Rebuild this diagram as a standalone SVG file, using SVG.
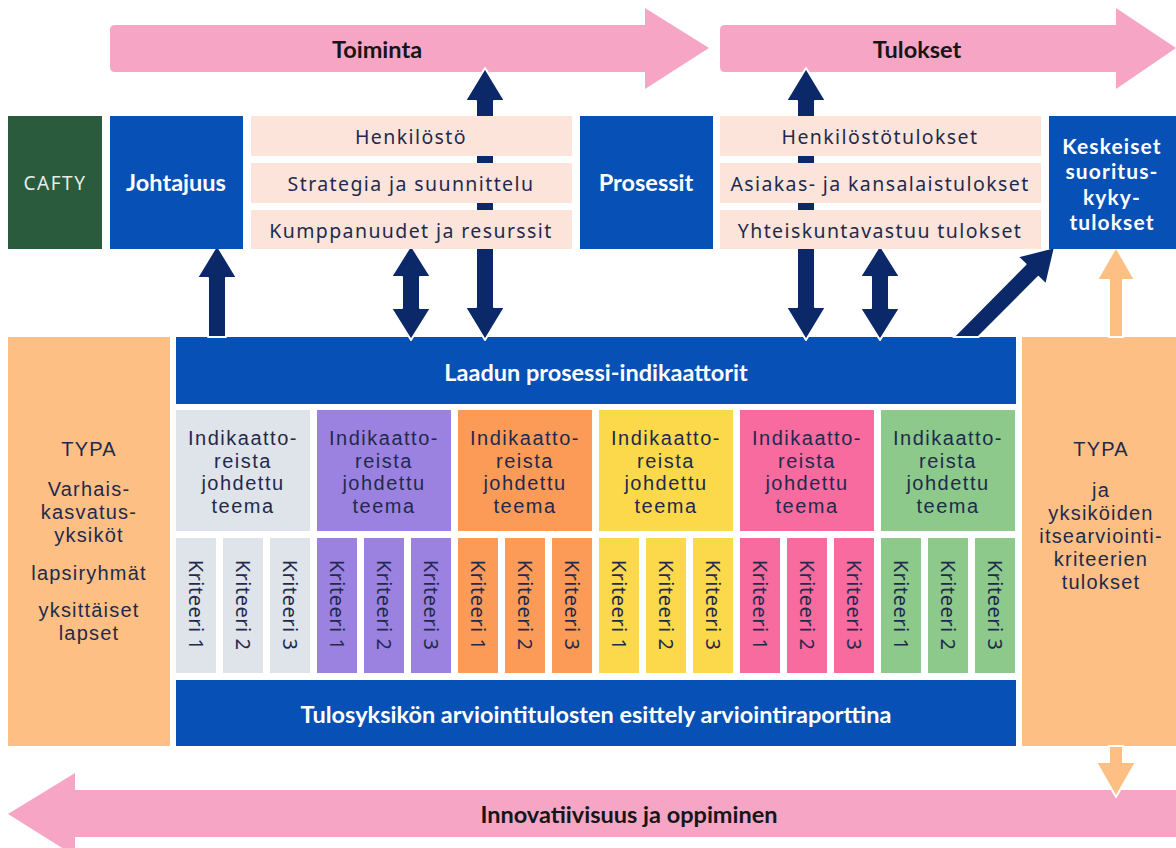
<svg xmlns="http://www.w3.org/2000/svg" width="1176" height="848" viewBox="0 0 1176 848">
<style>
.pink{fill:#f7a5c5}
.blue{fill:#0750b5}
.peach{fill:#fce4da}
.side{fill:#fdbf83}
.navy{fill:#0b2868;stroke:#ffffff;stroke-width:2;stroke-linejoin:round}
.oarr{fill:#fdbf83;stroke:#ffffff;stroke-width:2;stroke-linejoin:round}
.bold{font-family:Lato,"Liberation Sans",sans-serif;font-weight:700;font-size:23.5px;text-anchor:middle;dominant-baseline:central}
.kesk{font-family:Lato,"Liberation Sans",sans-serif;font-weight:700;font-size:21px;letter-spacing:1.1px;text-anchor:middle;dominant-baseline:central;fill:#ffffff}
.bw{fill:#ffffff}
.bk{fill:#161616}
.reg{font-family:"Noto Sans","Liberation Sans",sans-serif;font-size:19.5px;text-anchor:middle;dominant-baseline:central;fill:#1f2a4d;letter-spacing:1.4px}
.cafty{font-family:"Noto Sans","Liberation Sans",sans-serif;font-size:19px;text-anchor:middle;dominant-baseline:central;fill:#e6ece6;letter-spacing:1.5px}
.ind{font-family:"Liberation Sans",Arial,sans-serif;font-size:20px;text-anchor:middle;dominant-baseline:central;fill:#1f2a4d;letter-spacing:1.5px}
.sd{font-family:"Liberation Sans",Arial,sans-serif;font-size:20px;text-anchor:middle;dominant-baseline:central;fill:#1f2a4d;letter-spacing:1.2px}
.crit{font-family:"Noto Sans","Liberation Sans",sans-serif;font-size:20px;text-anchor:middle;dominant-baseline:central;fill:#1f2a4d;letter-spacing:0.5px}
.g0{fill:#dfe3ea}.g1{fill:#9b82e0}.g2{fill:#fb9b57}.g3{fill:#fcd94b}.g4{fill:#f76b9e}.g5{fill:#8cc98b}
</style>

<g id="toiminta">
<path class="pink" d="M115,25 H645 V8 L709,48 L645,89 V72 H115 Q110,72 110,67 V30 Q110,25 115,25 Z"/>
<text class="bold bk" x="377" y="49">Toiminta</text>
</g>
<g id="tulokset">
<path class="pink" d="M725,25 H1116 V8 L1176,48 L1116,89 V72 H725 Q720,72 720,67 V30 Q720,25 725,25 Z"/>
<text class="bold bk" x="917" y="49">Tulokset</text>
</g>
<g id="innovatiivisuus">
<path class="pink" d="M1176,790 H75 V773 L8,814 L75,856 V837 H1176 Z"/>
<text class="bold bk" x="629" y="814">Innovatiivisuus ja oppiminen</text>
</g>

<g id="typa-left">
<rect class="side" x="8" y="337" width="162" height="409"/>
<text class="sd" x="89" y="449">TYPA</text>
<text class="sd" x="89" y="489">Varhais-</text>
<text class="sd" x="89" y="512">kasvatus-</text>
<text class="sd" x="89" y="535">yksiköt</text>
<text class="sd" x="89" y="573">lapsiryhmät</text>
<text class="sd" x="89" y="610">yksittäiset</text>
<text class="sd" x="89" y="633">lapset</text>
</g>
<g id="typa-right">
<rect class="side" x="1022" y="337" width="154" height="409"/>
<text class="sd" x="1101" y="449">TYPA</text>
<text class="sd" x="1101" y="490">ja</text>
<text class="sd" x="1101" y="513">yksiköiden</text>
<text class="sd" x="1101" y="536">itsearviointi-</text>
<text class="sd" x="1101" y="559">kriteerien</text>
<text class="sd" x="1101" y="582">tulokset</text>
</g>
<g id="laadun">
<rect class="blue" x="176" y="337" width="840" height="67"/>
<text class="bold bw" x="596" y="372">Laadun prosessi-indikaattorit</text>
</g>
<g id="tulosyksikon">
<rect class="blue" x="176" y="680" width="840" height="66"/>
<text class="bold bw" x="596" y="714">Tulosyksikön arviointitulosten esittely arviointiraporttina</text>
</g>

<g id="teema1">
<rect class="g0" x="176" y="410" width="134" height="121"/>
<text class="ind" x="243" y="438">Indikaatto-</text><text class="ind" x="243" y="461">reista</text><text class="ind" x="243" y="483">johdettu</text><text class="ind" x="243" y="506">teema</text>
<rect class="g0" x="176" y="538" width="40" height="135"/><rect class="g0" x="223" y="538" width="40" height="135"/><rect class="g0" x="270" y="538" width="40" height="135"/>
<text class="crit" transform="translate(196,605) rotate(90)">Kriteeri 1</text><text class="crit" transform="translate(243,605) rotate(90)">Kriteeri 2</text><text class="crit" transform="translate(290,605) rotate(90)">Kriteeri 3</text>
</g>
<g id="teema2">
<rect class="g1" x="317" y="410" width="134" height="121"/>
<text class="ind" x="384" y="438">Indikaatto-</text><text class="ind" x="384" y="461">reista</text><text class="ind" x="384" y="483">johdettu</text><text class="ind" x="384" y="506">teema</text>
<rect class="g1" x="317" y="538" width="40" height="135"/><rect class="g1" x="364" y="538" width="40" height="135"/><rect class="g1" x="411" y="538" width="40" height="135"/>
<text class="crit" transform="translate(337,605) rotate(90)">Kriteeri 1</text><text class="crit" transform="translate(384,605) rotate(90)">Kriteeri 2</text><text class="crit" transform="translate(431,605) rotate(90)">Kriteeri 3</text>
</g>
<g id="teema3">
<rect class="g2" x="458" y="410" width="134" height="121"/>
<text class="ind" x="525" y="438">Indikaatto-</text><text class="ind" x="525" y="461">reista</text><text class="ind" x="525" y="483">johdettu</text><text class="ind" x="525" y="506">teema</text>
<rect class="g2" x="458" y="538" width="40" height="135"/><rect class="g2" x="505" y="538" width="40" height="135"/><rect class="g2" x="552" y="538" width="40" height="135"/>
<text class="crit" transform="translate(478,605) rotate(90)">Kriteeri 1</text><text class="crit" transform="translate(525,605) rotate(90)">Kriteeri 2</text><text class="crit" transform="translate(572,605) rotate(90)">Kriteeri 3</text>
</g>
<g id="teema4">
<rect class="g3" x="599" y="410" width="134" height="121"/>
<text class="ind" x="666" y="438">Indikaatto-</text><text class="ind" x="666" y="461">reista</text><text class="ind" x="666" y="483">johdettu</text><text class="ind" x="666" y="506">teema</text>
<rect class="g3" x="599" y="538" width="40" height="135"/><rect class="g3" x="646" y="538" width="40" height="135"/><rect class="g3" x="693" y="538" width="40" height="135"/>
<text class="crit" transform="translate(619,605) rotate(90)">Kriteeri 1</text><text class="crit" transform="translate(666,605) rotate(90)">Kriteeri 2</text><text class="crit" transform="translate(713,605) rotate(90)">Kriteeri 3</text>
</g>
<g id="teema5">
<rect class="g4" x="740" y="410" width="134" height="121"/>
<text class="ind" x="807" y="438">Indikaatto-</text><text class="ind" x="807" y="461">reista</text><text class="ind" x="807" y="483">johdettu</text><text class="ind" x="807" y="506">teema</text>
<rect class="g4" x="740" y="538" width="40" height="135"/><rect class="g4" x="787" y="538" width="40" height="135"/><rect class="g4" x="834" y="538" width="40" height="135"/>
<text class="crit" transform="translate(760,605) rotate(90)">Kriteeri 1</text><text class="crit" transform="translate(807,605) rotate(90)">Kriteeri 2</text><text class="crit" transform="translate(854,605) rotate(90)">Kriteeri 3</text>
</g>
<g id="teema6">
<rect class="g5" x="881" y="410" width="134" height="121"/>
<text class="ind" x="948" y="438">Indikaatto-</text><text class="ind" x="948" y="461">reista</text><text class="ind" x="948" y="483">johdettu</text><text class="ind" x="948" y="506">teema</text>
<rect class="g5" x="881" y="538" width="40" height="135"/><rect class="g5" x="928" y="538" width="40" height="135"/><rect class="g5" x="975" y="538" width="40" height="135"/>
<text class="crit" transform="translate(901,605) rotate(90)">Kriteeri 1</text><text class="crit" transform="translate(948,605) rotate(90)">Kriteeri 2</text><text class="crit" transform="translate(995,605) rotate(90)">Kriteeri 3</text>
</g>

<g id="connectors">
<path class="navy" d="M217,245 L237,278 L226,278 L226,337 L208,337 L208,278 L197,278 Z"/>
<path class="navy" d="M485,68 L505,101 L494,101 L494,307 L505,307 L485,340 L465,307 L476,307 L476,101 L465,101 Z"/>
<path class="navy" d="M806,68 L826,101 L815,101 L815,307 L826,307 L806,340 L786,307 L797,307 L797,101 L786,101 Z"/>
<path class="navy" d="M411,245 L431,277 L420,277 L420,308 L431,308 L411,340 L391,308 L402,308 L402,277 L391,277 Z"/>
<path class="navy" d="M880,245 L900,277 L889,277 L889,308 L900,308 L880,340 L860,308 L871,308 L871,277 L860,277 Z"/>
<path class="navy" d="M1055,247 L1046.2,284.6 L1038.3,276.9 L978.5,337 L953.4,337 L1025.5,264.3 L1017.6,256.6 Z"/>
<path class="oarr" d="M1116,247 L1135,280 L1123,280 L1123,337 L1109,337 L1109,280 L1097,280 Z"/>
<path class="oarr" d="M1109,746 L1123,746 L1123,762 L1136,762 L1116,797 L1096,762 L1109,762 Z"/>
</g>

<g id="cafty">
<rect x="8" y="116" width="94" height="133" fill="#2a5b3c"/>
<text class="cafty" x="55" y="183">CAFTY</text>
</g>
<g id="johtajuus">
<rect class="blue" x="110" y="116" width="133" height="133"/>
<text class="bold bw" x="176" y="182">Johtajuus</text>
</g>
<g id="toiminta-alueet">
<rect class="peach" x="251" y="116" width="321" height="40"/>
<rect class="peach" x="251" y="163" width="321" height="40"/>
<rect class="peach" x="251" y="210" width="321" height="39"/>
<text class="reg" x="411" y="136">Henkilöstö</text>
<text class="reg" x="411" y="183">Strategia ja suunnittelu</text>
<text class="reg" x="411" y="230">Kumppanuudet ja resurssit</text>
</g>
<g id="prosessit">
<rect class="blue" x="580" y="116" width="133" height="133"/>
<text class="bold bw" x="646" y="182">Prosessit</text>
</g>
<g id="tulosalueet">
<rect class="peach" x="720" y="116" width="321" height="40"/>
<rect class="peach" x="720" y="163" width="321" height="40"/>
<rect class="peach" x="720" y="210" width="321" height="39"/>
<text class="reg" x="880" y="136">Henkilöstötulokset</text>
<text class="reg" x="880" y="183">Asiakas- ja kansalaistulokset</text>
<text class="reg" x="880" y="230">Yhteiskuntavastuu tulokset</text>
</g>
<g id="keskeiset">
<rect class="blue" x="1049" y="116" width="127" height="133"/>
<text class="kesk" x="1112" y="145">Keskeiset</text>
<text class="kesk" x="1112" y="170">suoritus-</text>
<text class="kesk" x="1112" y="196">kyky-</text>
<text class="kesk" x="1112" y="221">tulokset</text>
</g>
</svg>
